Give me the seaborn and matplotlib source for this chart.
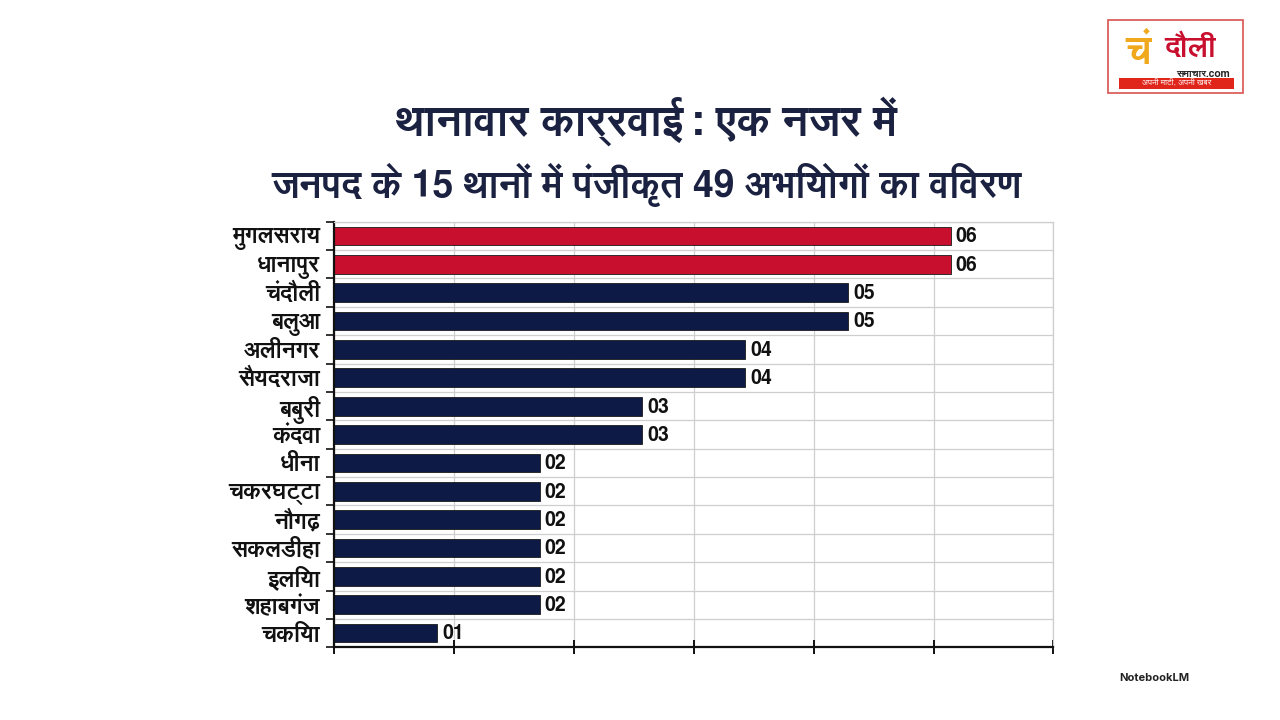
import numpy as np
import pandas as pd
import matplotlib
matplotlib.use('Agg')
import matplotlib.pyplot as plt
import seaborn as sns
from matplotlib import font_manager
from matplotlib.patches import Rectangle

# --- data ---
stations = ["मुगलसराय", "धानापुर", "चंदौली", "बलुआ", "अलीनगर", "सैयदराजा", "बबुरी",
            "कंदवा", "धीना", "चकरघट्टा", "नौगढ़", "सकलडीहा", "इलिया", "शहाबगंज", "चकिया"]
cases = [6, 6, 5, 5, 4, 4, 3, 3, 2, 2, 2, 2, 2, 2, 1]
group = ["top", "top"] + ["rest"] * 13

title = "थानावार कार्रवाई: एक नजर में"
subtitle = "जनपद के 15 थानों में पंजीकृत 49 अभियोगों का विवरण"

# --- find a font that covers Devanagari, if any is installed ---
deva = None
for f in font_manager.fontManager.ttflist:
    n = (f.name + " " + f.fname).lower()
    if any(k in n for k in ["devanagari", "lohit", "mukta", "hind", "freesans", "mangal", "gargi", "kalimati"]):
        deva = f.name
        break
fams = ([deva] if deva else []) + ["Noto Sans", "DejaVu Sans"]

sns.set_style("white")
plt.rcParams['font.family'] = fams

NAVY = "#0c1a45"
RED = "#c8102e"
INK = "#1b2140"

df = pd.DataFrame({"station": stations, "cases": cases, "group": group})

fig = plt.figure(figsize=(12.8, 7.2), dpi=100)
ax = fig.add_axes([0.261, 0.101, 0.562, 0.591])

sns.barplot(data=df, y="station", x="cases", hue="group",
            palette={"top": RED, "rest": NAVY}, dodge=False, legend=False,
            saturation=1, width=0.66, edgecolor="#1a1a1a", linewidth=0.6, ax=ax)

ax.set_xlim(0, 7)
ax.set_ylim(len(stations) - 0.5, -0.5)
ax.set_xticks(np.linspace(0, 7, 7))
ax.set_xticklabels([])
ax.set_yticks(np.arange(len(stations)))
ax.set_yticklabels(stations, fontsize=16.5, fontweight="bold", color="#111111")
ax.set_yticks(np.arange(len(stations) + 1) - 0.5, minor=True)
ax.tick_params(axis="y", which="major", left=False, length=0, pad=10)
ax.tick_params(axis="y", which="minor", left=True, length=6, width=1.2, color="#111111")
ax.tick_params(axis="x", which="major", bottom=True, length=10, width=1.4,
               color="#111111", direction="inout")
ax.set_xlabel("")
ax.set_ylabel("")

ax.grid(True, axis="x", which="major", color="#cfcfcf", linewidth=0.9)
ax.grid(True, axis="y", which="minor", color="#cfcfcf", linewidth=0.9)
ax.set_axisbelow(True)

for side in ["top", "right"]:
    ax.spines[side].set_color("#cfcfcf")
    ax.spines[side].set_linewidth(0.9)
for side in ["left", "bottom"]:
    ax.spines[side].set_color("#111111")
    ax.spines[side].set_linewidth(1.6)

for i, v in enumerate(cases):
    ax.text(v + 0.05, i + 0.03, f"{v:02d}", va="center", ha="left",
            fontsize=14, fontweight="bold", color="#111111")

fig.text(0.505, 0.832, title, ha="center", va="center",
         fontsize=31, fontweight="bold", color=INK)
fig.text(0.505, 0.743, subtitle, ha="center", va="center",
         fontsize=27, fontweight="bold", color=INK)

# logo box, top right
fig.add_artist(Rectangle((0.866, 0.871), 0.105, 0.101, transform=fig.transFigure,
                         facecolor="white", edgecolor="#d9534f", linewidth=1.2))
fig.text(0.889, 0.926, "चं", ha="center", va="center", fontsize=28,
         fontweight="bold", color="#f0a81c")
fig.text(0.930, 0.933, "दौली", ha="center", va="center", fontsize=21,
         fontweight="bold", color="#c8102e")
fig.text(0.940, 0.897, "समाचार.com", ha="center", va="center", fontsize=7.5,
         fontweight="bold", color="#222222")
fig.add_artist(Rectangle((0.874, 0.876), 0.090, 0.016, transform=fig.transFigure,
                         facecolor="#e0261b", edgecolor="none"))
fig.text(0.919, 0.884, "अपनी माटी, अपनी खबर", ha="center", va="center",
         fontsize=6, color="white")

fig.text(0.902, 0.058, "NotebookLM", ha="center", va="center",
         fontsize=8, fontweight="bold", color="#222222", family=["Inter", "DejaVu Sans"])

fig.savefig("out.png", dpi=100, facecolor="white")
